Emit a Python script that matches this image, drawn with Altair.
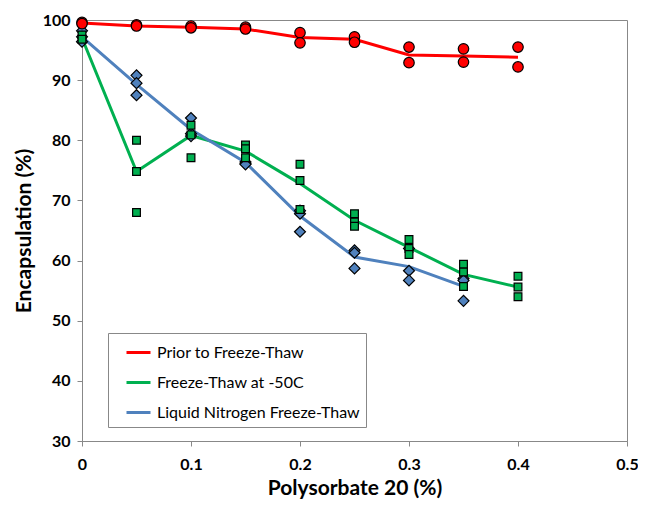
import altair as alt
import pandas as pd

series = ["Prior to Freeze-Thaw", "Freeze-Thaw at -50C", "Liquid Nitrogen Freeze-Thaw"]
colors = ["#FF0000", "#00B050", "#4F81BD"]

# mean lines
line_x = [0, 0.05, 0.1, 0.15, 0.2, 0.25, 0.3, 0.35, 0.4]
prior_line = [99.5, 99.0, 98.8, 98.5, 97.1, 96.8, 94.2, 94.0, 93.8]
fz50_line = [97.0, 74.8, 80.8, 78.2, 72.8, 66.7, 62.2, 57.7, 55.6]
ln2_line_x = [0, 0.05, 0.1, 0.15, 0.2, 0.25, 0.3, 0.35]
ln2_line = [97.2, 89.3, 81.8, 76.3, 67.4, 60.6, 59.0, 55.7]

# replicate points
prior_px = [0, 0, 0.05, 0.05, 0.1, 0.1, 0.15, 0.15, 0.2, 0.2, 0.25, 0.25, 0.3, 0.3, 0.35, 0.35, 0.4, 0.4]
prior_py = [99.6, 99.4, 99.2, 99.0, 99.0, 98.7, 98.8, 98.5, 97.9, 96.2, 97.2, 96.3, 95.5, 92.9, 95.2, 93.0, 95.5, 92.2]

fz50_px = [0, 0, 0.05, 0.05, 0.05, 0.1, 0.1, 0.1, 0.15, 0.15, 0.15, 0.2, 0.2, 0.2,
           0.25, 0.25, 0.25, 0.3, 0.3, 0.3, 0.35, 0.35, 0.35, 0.4, 0.4, 0.4]
fz50_py = [97.5, 96.8, 80.0, 74.8, 68.0, 82.5, 80.9, 77.1, 79.2, 78.6, 77.1, 76.0, 73.3, 68.5,
           67.8, 66.4, 65.7, 63.5, 62.0, 61.0, 59.4, 58.1, 55.7, 57.4, 55.6, 54.0]

ln2_px = [0, 0, 0, 0.05, 0.05, 0.05, 0.1, 0.1, 0.1, 0.15, 0.15, 0.15, 0.2, 0.2, 0.2,
          0.25, 0.25, 0.25, 0.3, 0.3, 0.3, 0.35, 0.35, 0.35]
ln2_py = [98.2, 97.2, 96.4, 90.8, 89.5, 87.5, 83.7, 81.1, 80.7, 76.4, 76.1, 76.0, 68.3, 67.8, 64.8,
          61.7, 61.3, 58.7, 62.0, 58.3, 56.7, 57.0, 56.7, 53.3]

x_ticks = [0, 0.1, 0.2, 0.3, 0.4, 0.5]
y_ticks = [30, 40, 50, 60, 70, 80, 90, 100]

lines = pd.concat([
    pd.DataFrame({"series": series[0], "x": line_x, "y": prior_line}),
    pd.DataFrame({"series": series[1], "x": line_x, "y": fz50_line}),
    pd.DataFrame({"series": series[2], "x": ln2_line_x, "y": ln2_line}),
])
prior_pts = pd.DataFrame({"x": prior_px, "y": prior_py})
fz50_pts = pd.DataFrame({"x": fz50_px, "y": fz50_py})
ln2_pts = pd.DataFrame({"x": ln2_px, "y": ln2_py})

xenc = alt.X("x:Q", scale=alt.Scale(domain=[0, 0.5], nice=False),
             axis=alt.Axis(values=x_ticks, format="~g", title="Polysorbate 20 (%)",
                           labelFlush=False, labelPadding=10, titlePadding=5))
yenc = alt.Y("y:Q", scale=alt.Scale(domain=[30, 100], nice=False),
             axis=alt.Axis(values=y_ticks, title="Encapsulation (%)", labelPadding=7,
                           labelFlush=False, titlePadding=8))

line_layer = alt.Chart(lines).mark_line(strokeWidth=3).encode(
    x=xenc, y=yenc,
    color=alt.Color("series:N", scale=alt.Scale(domain=series, range=colors),
                    legend=alt.Legend(title=None, orient="none", legendX=26, legendY=313,
                                      symbolType="stroke", symbolStrokeWidth=3, symbolSize=576,
                                      labelFontSize=16, labelFont="Lato", labelColor="black",
                                      rowPadding=8, padding=6, symbolOffset=11, labelOffset=5,
                                      strokeColor="#888", fillColor="white", labelLimit=300)),
)


def pts(df, shape, color, size):
    return alt.Chart(df).mark_point(shape=shape, filled=True, fill=color, stroke="black",
                                    strokeWidth=1.2, opacity=1, size=size).encode(x="x:Q", y="y:Q")


chart = alt.layer(
    line_layer,
    pts(ln2_pts, "diamond", colors[2], 120),
    pts(fz50_pts, "square", colors[1], 60),
    pts(prior_pts, "circle", colors[0], 110),
).properties(
    width=545, height=421,
    autosize=alt.AutoSizeParams(type="none"),
    padding={"left": 74, "top": 12, "right": 11, "bottom": 60},
).configure_view(stroke="#888", strokeWidth=1).configure_axis(
    grid=False, domainColor="#888", tickColor="#888", tickSize=5,
    labelFont="Lato", labelFontSize=16, labelFontWeight="bold", labelColor="black",
    titleFont="Lato", titleFontSize=21, titleFontWeight="bold", titleColor="black",
)

chart.save("out.html", embed_options={"renderer": "svg", "actions": False})
